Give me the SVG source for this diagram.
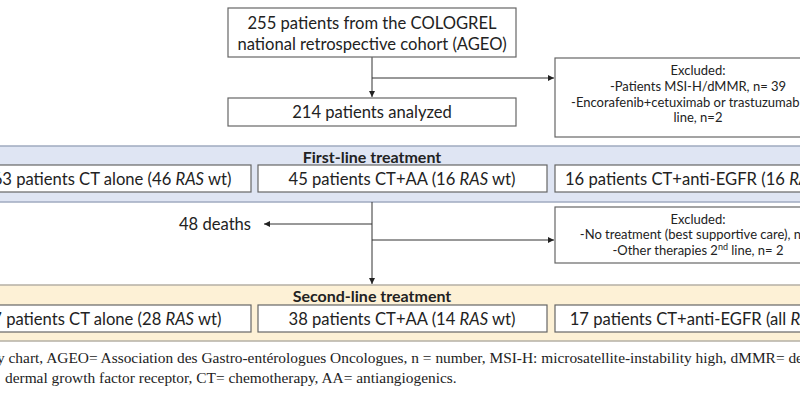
<svg xmlns="http://www.w3.org/2000/svg" width="800" height="400" viewBox="0 0 800 400">
<defs>
<style>
.box{fill:#fff;stroke:#666;stroke-width:1.2}
.t{font-family:Lato,"Open Sans","Liberation Sans",sans-serif;font-size:16.6px;fill:#222;text-anchor:middle;dominant-baseline:central}
.s{font-size:13px}
.b{font-weight:bold;font-size:16px}
.line{stroke:#333;stroke-width:1;fill:none}
.cap{font-family:"Liberation Serif","DejaVu Serif",serif;font-size:15.4px;fill:#222}
</style>
<marker id="ah" viewBox="0 0 6 6" refX="6" refY="3" markerWidth="6" markerHeight="6" orient="auto" markerUnits="userSpaceOnUse">
<path d="M0,0 L6,3 L0,6 z" fill="#222"/>
</marker>
</defs>
<rect width="800" height="400" fill="#fff"/>

<g id="band1"><rect x="-5" y="146" width="810" height="56" fill="#dfe5f3" stroke="#a0aac0" stroke-width="1.5"/>
<text class="t b" x="372" y="156.5">First-line treatment</text></g>
<g id="band2"><rect x="-5" y="285" width="810" height="56" fill="#fdf1d6" stroke="#b5b0a5" stroke-width="1.5"/>
<text class="t b" x="372" y="295.5">Second-line treatment</text></g>

<g id="connectors">
<path class="line" d="M372,57 V97" marker-end="url(#ah)"/>
<path class="line" d="M372,78 H554" marker-end="url(#ah)"/>
<path class="line" d="M372,202 V284" marker-end="url(#ah)"/>
<path class="line" d="M372,224 H264" marker-end="url(#ah)"/>
<path class="line" d="M372,240 H554" marker-end="url(#ah)"/>
</g>

<g id="n1"><rect class="box" x="228" y="8" width="288" height="49"/>
<text class="t" x="372" y="23">255 patients from the COLOGREL</text>
<text class="t" x="372" y="44">national retrospective cohort (AGEO)</text></g>
<g id="n2"><rect class="box" x="228" y="98" width="288" height="28"/>
<text class="t" x="372" y="112">214 patients analyzed</text></g>
<g id="ex1"><rect class="box" x="555" y="58" width="290" height="79"/>
<text class="t s" x="698" y="70">Excluded:</text>
<text class="t s" x="698" y="86">-Patients MSI-H/dMMR, n= 39</text>
<text class="t s" x="698" y="102">-Encorafenib+cetuximab or trastuzumab 2nd</text>
<text class="t s" x="698" y="117">line, n=2</text></g>

<g id="f1"><rect class="box" x="-10" y="165" width="261" height="27"/>
<text class="t" x="112" y="178.5">63 patients CT alone (46 <tspan font-style="italic">RAS</tspan> wt)</text></g>
<g id="f2"><rect class="box" x="258" y="165" width="289" height="27"/>
<text class="t" x="402" y="178.5">45 patients CT+AA (16 <tspan font-style="italic">RAS</tspan> wt)</text></g>
<g id="f3"><rect class="box" x="555" y="165" width="290" height="27"/>
<text class="t" x="705" y="178.5">16 patients CT+anti-EGFR (16 <tspan font-style="italic">RAS</tspan> wt)</text></g>

<g id="deaths"><text class="t" x="215" y="224">48 deaths</text></g>

<g id="ex2"><rect class="box" x="555" y="207" width="290" height="56"/>
<text class="t s" x="698" y="219">Excluded:</text>
<text class="t s" x="698" y="234">-No treatment (best supportive care), n=4</text>
<text class="t s" x="698" y="250">-Other therapies 2<tspan font-size="9" dy="-4">nd</tspan><tspan dy="4"> line, n= 2</tspan></text></g>

<g id="s1"><rect class="box" x="-10" y="305" width="261" height="27"/>
<text class="t" x="102" y="318.5">37 patients CT alone (28 <tspan font-style="italic">RAS</tspan> wt)</text></g>
<g id="s2"><rect class="box" x="258" y="305" width="289" height="27"/>
<text class="t" x="402" y="318.5">38 patients CT+AA (14 <tspan font-style="italic">RAS</tspan> wt)</text></g>
<g id="s3"><rect class="box" x="555" y="305" width="290" height="27"/>
<text class="t" x="708" y="318.5">17 patients CT+anti-EGFR (all <tspan font-style="italic">RAS</tspan> wt)</text></g>

<text class="cap" x="-3" y="363">y chart, AGEO= Association des Gastro-entérologues Oncologues, n = number, MSI-H: microsatellite-instability high, dMMR= deficient</text>
<text class="cap" x="5" y="383">dermal growth factor receptor, CT= chemotherapy, AA= antiangiogenics.</text>
</svg>
